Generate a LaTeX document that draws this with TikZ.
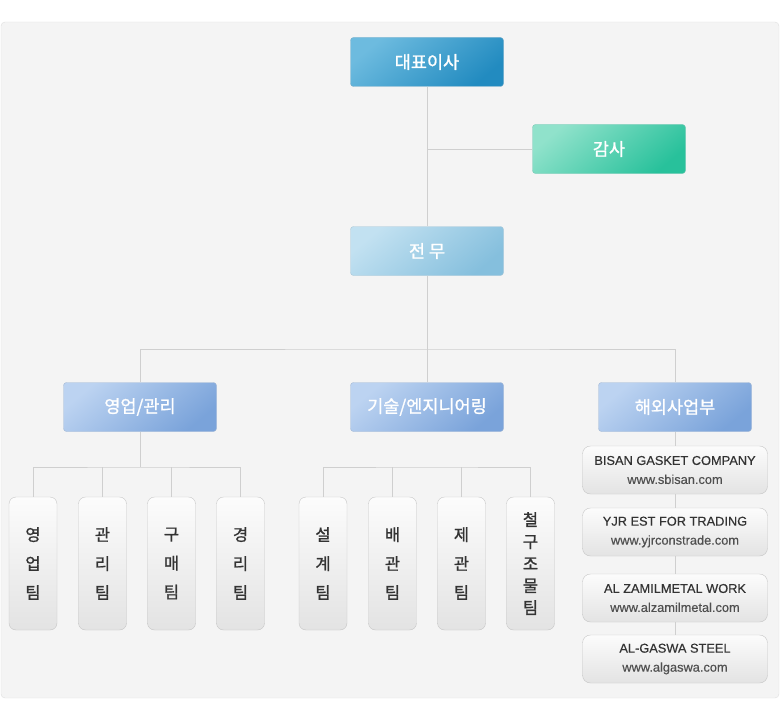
\documentclass[tikz,border=0pt]{standalone}
\usepackage{fontspec}
\setmainfont{Noto Sans CJK KR}
\newfontfamily\krfont[FakeBold=1.2]{Noto Sans CJK KR}
\newfontfamily\latinfont[FakeBold=0.4]{Liberation Sans}

\definecolor{framefill}{HTML}{F4F4F4}
\definecolor{framedraw}{HTML}{DEDEDE}
\definecolor{linkgray}{HTML}{CFCFCF}
\definecolor{ceolight}{HTML}{6DBBDF}
\definecolor{ceodark}{HTML}{228BC0}
\definecolor{auditlight}{HTML}{90E2CB}
\definecolor{auditdark}{HTML}{28C19B}
\definecolor{execlight}{HTML}{C2E1F1}
\definecolor{execdark}{HTML}{85BFDD}
\definecolor{deptlight}{HTML}{BCD3F1}
\definecolor{deptdark}{HTML}{7AA3DA}
\definecolor{teamtop}{HTML}{FCFCFC}
\definecolor{teambottom}{HTML}{E3E3E3}
\definecolor{teamdraw}{HTML}{C6C6C6}
\definecolor{textdark}{HTML}{333333}
\definecolor{urlgray}{HTML}{505050}

\tikzset{
  headbox/.style n args={2}{draw=#2!85!black!60, top color=#1, middle color=#2,
    bottom color=#2, shading angle=40, text=white, font=\krfont\fontsize{17.5}{19}\selectfont,
    minimum width=153pt, minimum height=49pt, inner sep=0pt, rounded corners=3pt},
  ceobox/.style={headbox={ceolight}{ceodark}},
  auditbox/.style={headbox={auditlight}{auditdark}},
  execbox/.style={headbox={execlight}{execdark}},
  deptbox/.style={headbox={deptlight}{deptdark}},
  teambox/.style={draw=teamdraw, top color=teamtop, bottom color=teambottom,
    rounded corners=7pt, minimum width=48pt, minimum height=133pt, inner sep=0pt,
    align=center, text=textdark, font=\krfont\fontsize{16.5}{29}\selectfont},
  companybox/.style={draw=teamdraw, top color=teamtop, bottom color=teambottom,
    rounded corners=8pt, minimum width=185pt, minimum height=48pt, inner sep=0pt,
    align=center, text=textdark, font=\latinfont\fontsize{12.8}{19}\selectfont},
  link/.style={draw=linkgray, line width=0.8pt}
}

\begin{document}
\begin{tikzpicture}[x=1pt,y=-1pt]
\useasboundingbox (0,0) rectangle (780,725);
\draw[fill=framefill, draw=framedraw, rounded corners=4pt] (1,22) rectangle (779,698);

% top of the chart
\node[ceobox] (ceo) at (427,62) {대표이사};
\node[auditbox] (audit) at (609,149) {감사};
\node[execbox] (exec) at (427,251) {전 무};

% departments
\node[deptbox] (sales) at (140,407) {영업/관리};
\node[deptbox] (eng) at (427,407) {기술/엔지니어링};
\node[deptbox] (intl) at (675,407) {해외사업부};

% teams
\foreach \x/\name/\txt in {33/t1/{영\\업\\팀}, 102.5/t2/{관\\리\\팀}, 171.5/t3/{구\\매\\팀},
    240.5/t4/{경\\리\\팀}, 323/t5/{설\\계\\팀}, 392.5/t6/{배\\관\\팀}, 461.5/t7/{제\\관\\팀}}
  \node[teambox] (\name) at (\x,563.5) {\txt};
\node[teambox, font=\krfont\fontsize{16.5}{22}\selectfont] (t8) at (530.5,563.5) {철\\구\\조\\물\\팀};

% overseas partners
\node[companybox] (c1) at (675,470) {BISAN GASKET COMPANY\\{\color{urlgray}www.sbisan.com}};
\node[companybox] (c2) at (675,532) {YJR EST FOR TRADING\\{\color{urlgray}www.yjrconstrade.com}};
\node[companybox] (c3) at (675,598) {AL ZAMILMETAL WORK\\{\color{urlgray}www.alzamilmetal.com}};
\node[companybox] (c4) at (675,659) {AL-GASWA STEEL\\{\color{urlgray}www.algaswa.com}};

% connectors
\coordinate (ajoin) at (ceo.south |- audit.west);
\coordinate (mbus) at (427,349);
\coordinate (sbus) at (140,467);
\coordinate (ebus) at (427,467);
\draw[link] (ceo.south) -- (exec.north);
\draw[link] (ajoin) -- (audit.west);
\draw[link] (exec.south) -- (mbus);
\draw[link] (sales.north) |- (mbus) -| (intl.north);
\draw[link] (eng.north) -- (mbus);
\draw[link] (sales.south) -- (sbus);
\draw[link] (t1.north) |- (sbus) -| (t4.north);
\draw[link] (t2.north) -- (t2.north |- sbus);
\draw[link] (t3.north) -- (t3.north |- sbus);
\draw[link] (t5.north) |- (ebus) -| (t8.north);
\draw[link] (t6.north) -- (t6.north |- ebus);
\draw[link] (t7.north) -- (t7.north |- ebus);
\draw[link] (intl.south) -- (c1.north);
\draw[link] (c1.south) -- (c2.north);
\draw[link] (c2.south) -- (c3.north);
\draw[link] (c3.south) -- (c4.north);
\end{tikzpicture}
\end{document}
